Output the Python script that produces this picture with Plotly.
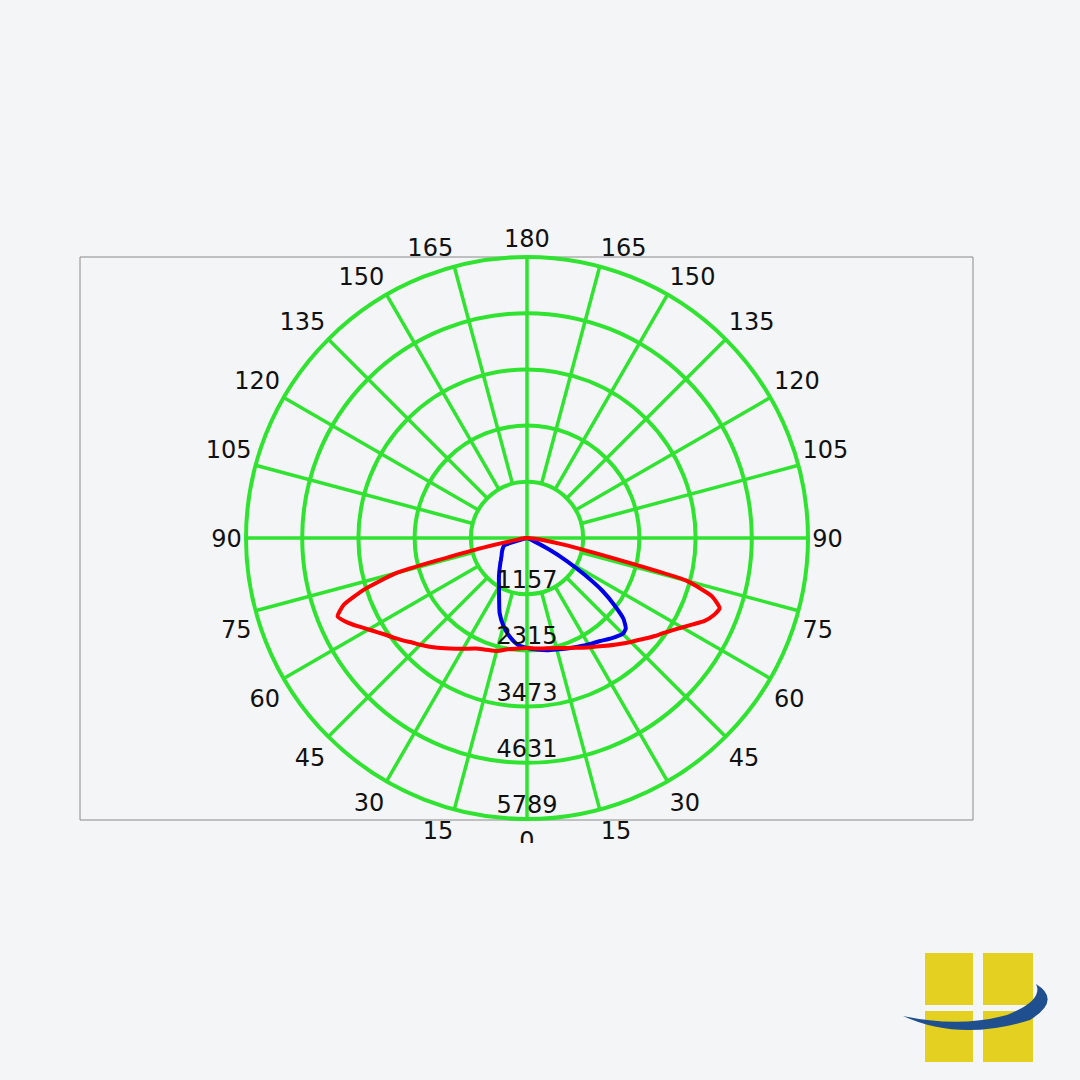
import math
import plotly.graph_objects as go

# photometric readings (cd), gamma angles measured from nadir
gammas = [0, 5, 10, 15, 20, 25, 30, 35, 40, 45, 47.5, 50, 52.5, 55, 57.5,
          60, 62.5, 65, 67.5, 70, 72.5, 75, 77.5, 80, 85, 90]

red_right = [2266, 2287, 2307, 2348, 2410, 2493, 2596, 2719, 2863, 3028, 3111,
             3214, 3317, 3420, 3543, 3687, 3852, 4038, 4161, 4223, 3996, 3399,
             1442, 721, 165, 0]
red_left = [2266, 2287, 2328, 2410, 2451, 2513, 2637, 2781, 2946, 3111, 3193,
            3296, 3399, 3502, 3626, 3770, 3935, 4099, 4223, 4017, 3502, 2781,
            1030, 247, 62, 0]
blue_right = [2266, 2307, 2348, 2379, 2421, 2472, 2534, 2596, 2699, 2791, 2760,
              2596, 2266, 1895, 1401, 948, 515, 165, 41, 0, 0, 0, 0, 0, 0, 0]
blue_left = [2266, 2204, 2060, 1875, 1648, 1360, 1154, 1009, 886, 783, 742,
             700, 670, 639, 618, 597, 577, 556, 536, 515, 474, 103, 0, 0, 0, 0]

ring_values = [1157, 2315, 3473, 4631, 5789]
angle_ticks = list(range(0, 360, 15))
angle_labels = [str(a if a <= 180 else 360 - a) for a in angle_ticks]

GREEN = "#30e330"
BG = "#f4f5f7"
FONT = "DejaVu Sans"
R_MAX = ring_values[-1]
EXTRA = 1.2          # radial room left outside the outer ring for labels
CX, CY, RPX = 527, 538, 281   # centre and outer ring radius, in pixels


def full_curve(left, right):
    theta = [-g for g in reversed(gammas)] + gammas[1:]
    r = list(reversed(left)) + right[1:]
    return theta, r


def label_anchor(a):
    # text corner sits on the label circle, like the original drawing
    if a == 0:
        return "bottom center"
    if a == 180:
        return "top center"
    if a == 90:
        return "middle right"
    if a == 270:
        return "middle left"
    vert = "bottom" if (a < 90 or a > 270) else "top"
    horiz = "right" if a < 180 else "left"
    return vert + " " + horiz


def label_point(a):
    # label circle a little outside the ring; lower labels sit a bit lower
    rad = RPX * 1.015
    x = rad * math.sin(math.radians(a))
    y = rad * math.cos(math.radians(a))      # downward positive
    if a < 90 or a > 270:
        y += 8
    elif a in (90, 270):
        y += 3
    r = math.hypot(x, y) * R_MAX / RPX
    th = math.degrees(math.atan2(x, y))
    return th, r


lab_pts = [label_point(a) for a in angle_ticks]

fig = go.Figure()

# spokes: 0/90/180/270 cross the centre, the rest start at the first ring
sp_theta, sp_r = [], []
for a in angle_ticks:
    start = 0 if a % 90 == 0 else ring_values[0]
    sp_theta += [a, a, None]
    sp_r += [start, R_MAX, None]
fig.add_trace(go.Scatterpolar(theta=sp_theta, r=sp_r, mode="lines",
                              line=dict(color=GREEN, width=3.5),
                              hoverinfo="skip", showlegend=False))

t, r = full_curve(blue_left, blue_right)
fig.add_trace(go.Scatterpolar(theta=t, r=r, mode="lines",
                              line=dict(color="#0000e6", width=4,
                                        shape="spline", smoothing=0.5),
                              showlegend=False))
t, r = full_curve(red_left, red_right)
fig.add_trace(go.Scatterpolar(theta=t, r=r, mode="lines",
                              line=dict(color="#ff0000", width=4,
                                        shape="spline", smoothing=0.5),
                              showlegend=False))

# ring value labels along the nadir line
fig.add_trace(go.Scatterpolar(theta=[0] * len(ring_values), r=ring_values,
                              mode="text", text=[str(v) for v in ring_values],
                              textposition="top center",
                              textfont=dict(family=FONT, size=24, color="#111111"),
                              cliponaxis=False, hoverinfo="skip",
                              showlegend=False))

# angle labels around the outer ring
fig.add_trace(go.Scatterpolar(theta=[p[0] for p in lab_pts],
                              r=[p[1] for p in lab_pts],
                              mode="text", text=angle_labels,
                              textposition=[label_anchor(a) for a in angle_ticks],
                              textfont=dict(family=FONT, size=24, color="#111111"),
                              cliponaxis=False, hoverinfo="skip",
                              showlegend=False))

half = RPX * EXTRA
fig.update_layout(
    width=1080, height=1080, autosize=False,
    margin=dict(l=0, r=0, t=0, b=0),
    paper_bgcolor=BG,
    polar=dict(
        domain=dict(x=[(CX - half) / 1080, (CX + half) / 1080],
                    y=[(1080 - CY - half) / 1080, (1080 - CY + half) / 1080]),
        bgcolor="rgba(0,0,0,0)",
        radialaxis=dict(range=[0, R_MAX * EXTRA], tickvals=ring_values,
                        showticklabels=False, ticks="", showline=False,
                        gridcolor=GREEN, gridwidth=3.5),
        angularaxis=dict(rotation=-90, direction="counterclockwise",
                         tickvals=angle_ticks, showticklabels=False, ticks="",
                         showgrid=False, showline=False),
    ),
)


def px(x, y):
    return x / 1080, 1 - y / 1080


shapes = []
# frame around the diagram
x0, y0 = px(80, 820)
x1, y1 = px(973, 257)
shapes.append(dict(type="rect", xref="paper", yref="paper", x0=x0, y0=y0,
                   x1=x1, y1=y1, line=dict(color="#8a8a8a", width=1),
                   layer="below"))
# the source image is cut just below the frame
x0, y0 = px(470, 880)
x1, y1 = px(590, 843)
shapes.append(dict(type="rect", xref="paper", yref="paper", x0=x0, y0=y0,
                   x1=x1, y1=y1, line=dict(width=0), fillcolor=BG,
                   layer="above"))

# logo, bottom right
for (a, b, c, d) in [(925, 953, 973, 1005), (983, 953, 1033, 1005),
                     (925, 1011, 973, 1062), (983, 1011, 1033, 1062)]:
    x0, y0 = px(a, d)
    x1, y1 = px(c, b)
    shapes.append(dict(type="rect", xref="paper", yref="paper", x0=x0, y0=y0,
                       x1=x1, y1=y1, line=dict(width=0), fillcolor="#e3d020",
                       layer="above"))
pts = [(903, 1016), (960, 1042), (1030, 1020), (1062, 1000), (1036, 984),
       (1044, 1000), (1007, 1015), (960, 1028), (903, 1016)]
p = [px(x, y) for x, y in pts]
path = ("M {0[0]},{0[1]} Q {1[0]},{1[1]} {2[0]},{2[1]} Q {3[0]},{3[1]} "
        "{4[0]},{4[1]} Q {5[0]},{5[1]} {6[0]},{6[1]} Q {7[0]},{7[1]} "
        "{8[0]},{8[1]} Z").format(*p)
shapes.append(dict(type="path", xref="paper", yref="paper", path=path,
                   fillcolor="#1f4f8f", line=dict(width=0), layer="above"))

fig.update_layout(shapes=shapes)
fig.write_html(
    "out.html",
    config={"displayModeBar": False},
    post_script="document.body.style.margin='0';"
                "document.body.style.background='%s';" % BG,
)
